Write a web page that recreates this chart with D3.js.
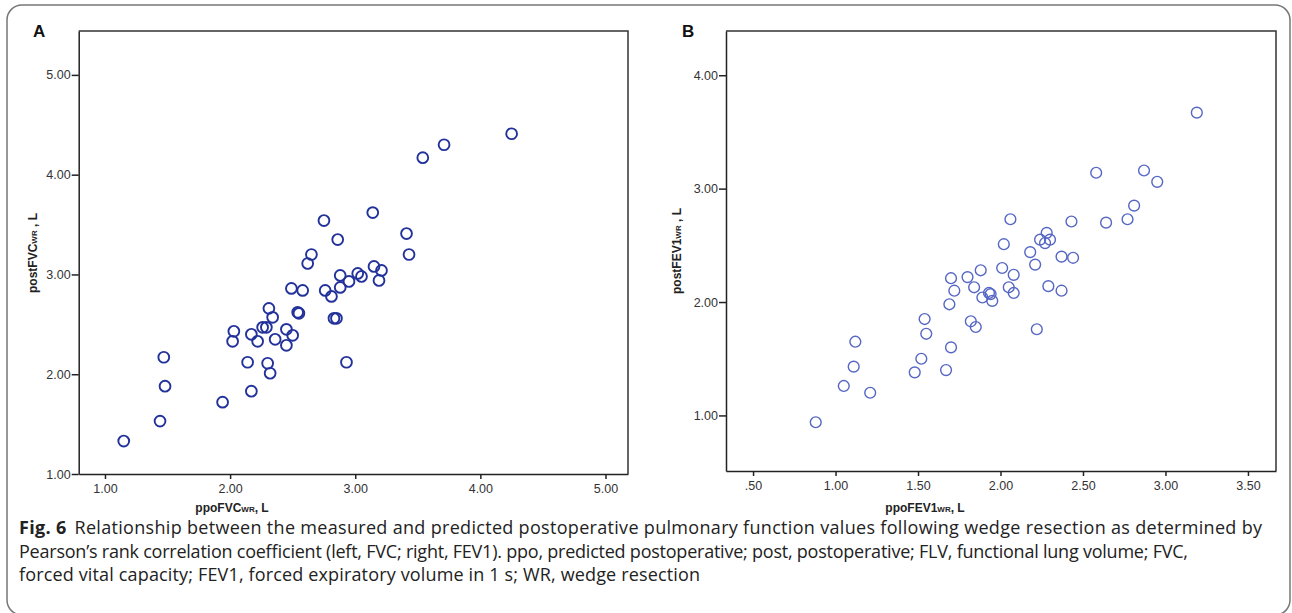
<!DOCTYPE html>
<html>
<head>
<meta charset="utf-8">
<script src="https://cdn.jsdelivr.net/npm/d3@7"></script>
<style>
  body { margin: 0; background: #fff; }
  svg { display: block; }
  .tick text { font-family: "Liberation Sans", Arial, sans-serif; font-size: 12.5px; fill: #333; }
  .axis path, .axis line { stroke: #222; stroke-width: 1.5; }
  .ttl { font-family: "Liberation Sans", Arial, sans-serif; font-weight: bold; font-size: 12px; fill: #222; }
  .cap { font-family: "Open Sans", sans-serif; font-size: 18px; fill: #222; }
</style>
</head>
<body>
<script>
// panel A: ppoFVC (x) vs postFVC (y)
var fvcPpo  = [2.75, 3.14, 3.41, 3.43, 2.86, 2.65, 2.62, 2.49, 2.58, 2.88, 2.95, 2.88, 2.76, 2.81,
               3.02, 3.05, 3.15, 3.21, 3.19, 2.55, 2.54, 2.83, 2.85, 2.31, 2.34, 2.26, 2.29, 2.45,
               2.50, 2.45, 2.36, 2.17, 2.22, 2.03, 2.02, 2.14, 2.30, 2.32, 2.93, 2.17, 1.94,
               3.54, 3.71, 4.25, 1.47, 1.48, 1.44, 1.15];
var fvcPost = [3.54, 3.62, 3.41, 3.20, 3.35, 3.20, 3.11, 2.86, 2.84, 2.99, 2.93, 2.87, 2.84, 2.78,
               3.01, 2.98, 3.08, 3.04, 2.94, 2.61, 2.62, 2.56, 2.56, 2.66, 2.57, 2.47, 2.47, 2.45,
               2.39, 2.29, 2.35, 2.40, 2.33, 2.43, 2.33, 2.12, 2.11, 2.01, 2.12, 1.83, 1.72,
               4.17, 4.30, 4.41, 2.17, 1.88, 1.53, 1.33];

// panel B: ppoFEV1 (x) vs postFEV1 (y)
var fevPpo  = [2.06, 2.43, 2.02, 2.28, 2.24, 2.30, 2.27, 2.18, 2.21, 2.37, 2.44, 2.01, 2.08, 2.05,
               2.08, 2.29, 2.37, 2.22, 1.88, 1.80, 1.70, 1.72, 1.84, 1.93, 1.94, 1.89, 1.95, 1.69,
               1.82, 1.85, 1.54, 1.55, 1.70, 1.52, 1.48, 1.67, 1.12, 1.11, 1.05, 1.21, 0.88,
               3.19, 2.58, 2.87, 2.95, 2.81, 2.77, 2.64];
var fevPost = [2.73, 2.71, 2.51, 2.61, 2.55, 2.55, 2.52, 2.44, 2.33, 2.40, 2.39, 2.30, 2.24, 2.13,
               2.08, 2.14, 2.10, 1.76, 2.28, 2.22, 2.21, 2.10, 2.13, 2.08, 2.07, 2.04, 2.01, 1.98,
               1.83, 1.78, 1.85, 1.72, 1.60, 1.50, 1.38, 1.40, 1.65, 1.43, 1.26, 1.20, 0.94,
               3.67, 3.14, 3.16, 3.06, 2.85, 2.73, 2.70];

var fvcXTicks = [1, 2, 3, 4, 5];
var fvcYTicks = [1, 2, 3, 4, 5];
var fevXTicks = [0.5, 1, 1.5, 2, 2.5, 3, 3.5];
var fevYTicks = [1, 2, 3, 4];

var captionLines = [
  "Relationship between the measured and predicted postoperative pulmonary function values following wedge resection as determined by",
  "Pearson\u2019s rank correlation coefficient (left, FVC; right, FEV1). ppo, predicted postoperative; post, postoperative; FLV, functional lung volume; FVC,",
  "forced vital capacity; FEV1, forced expiratory volume in 1 s; WR, wedge resection"
];
// measured line widths in the figure
var captionWidths = [1243, 1169, 681];

var W = 1292, H = 613;
var svg = d3.select("body").append("svg").attr("width", W).attr("height", H);

// outer rounded frame
svg.append("rect")
  .attr("x", 7).attr("y", 5).attr("width", 1283).attr("height", 610)
  .attr("rx", 15).attr("fill", "none").attr("stroke", "#777").attr("stroke-width", 1.5);

var fmtA = d3.format(".2f");
var fmtB = function(v) { return d3.format(".2f")(v).replace(/^0/, ""); };

function panel(cfg) {
  var x = d3.scaleLinear().domain(cfg.xDom).range([cfg.left, cfg.right]);
  var y = d3.scaleLinear().domain(cfg.yDom).range([cfg.bottom, cfg.top]);

  var g = svg.append("g");

  // top and right frame lines
  g.append("path")
    .attr("d", "M" + cfg.left + "," + cfg.top + "H" + cfg.right + "V" + cfg.bottom)
    .attr("fill", "none").attr("stroke", "#333").attr("stroke-width", 1.5);

  g.append("g").attr("class", "axis")
    .attr("transform", "translate(0," + cfg.bottom + ")")
    .call(d3.axisBottom(x).tickValues(cfg.xTicks).tickFormat(cfg.fmt).tickSize(5).tickSizeOuter(0).tickPadding(5));

  g.append("g").attr("class", "axis")
    .attr("transform", "translate(" + cfg.left + ",0)")
    .call(d3.axisLeft(y).tickValues(cfg.yTicks).tickFormat(fmtA).tickSize(7).tickSizeOuter(0).tickPadding(1));

  g.selectAll("circle.pt")
    .data(cfg.xs.map(function(v, i) { return [v, cfg.ys[i]]; }))
    .enter().append("circle")
    .attr("class", "pt")
    .attr("cx", function(d) { return x(d[0]); })
    .attr("cy", function(d) { return y(d[1]); })
    .attr("r", 5.4)
    .attr("fill", "none")
    .attr("stroke", cfg.color)
    .attr("stroke-width", cfg.sw);

  // panel letter
  g.append("text").attr("x", cfg.letterX).attr("y", 37)
    .style("font-family", "Liberation Sans, Arial, sans-serif")
    .style("font-weight", "bold").style("font-size", "17px").style("fill", "#111")
    .text(cfg.letter);

  // x title
  var xt = g.append("text").attr("class", "ttl")
    .attr("x", cfg.xTitleX).attr("y", 512).attr("text-anchor", "middle");
  xt.append("tspan").text(cfg.xName);
  xt.append("tspan").style("font-size", "8px").text("WR");
  xt.append("tspan").text(", L");

  // y title
  var yt = g.append("text").attr("class", "ttl")
    .attr("transform", "translate(" + cfg.yTitleX + "," + cfg.yTitleY + ") rotate(-90)")
    .attr("text-anchor", "middle");
  yt.append("tspan").text(cfg.yName);
  yt.append("tspan").style("font-size", "8px").text("WR");
  yt.append("tspan").text(" , L");
}

panel({
  xs: fvcPpo, ys: fvcPost,
  xDom: [0.79, 5.18], yDom: [1.0, 5.44],
  left: 78.7, right: 628, top: 31, bottom: 474,
  xTicks: fvcXTicks, yTicks: fvcYTicks, fmt: fmtA,
  color: "#22329a", sw: 1.9,
  letter: "A", letterX: 33,
  xName: "ppoFVC", xTitleX: 232,
  yName: "postFVC", yTitleX: 37, yTitleY: 253
});

panel({
  xs: fevPpo, ys: fevPost,
  xDom: [0.336, 3.67], yDom: [0.51, 4.39],
  left: 726, right: 1276, top: 31, bottom: 471,
  xTicks: fevXTicks, yTicks: fevYTicks, fmt: fmtB,
  color: "#5566c4", sw: 1.4,
  letter: "B", letterX: 682,
  xName: "ppoFEV1", xTitleX: 925,
  yName: "postFEV1", yTitleX: 681, yTitleY: 251
});

// caption
var cap = svg.append("g");
captionLines.forEach(function(line, i) {
  var t = cap.append("text").attr("class", "cap").attr("x", 19).attr("y", 534 + i * 23.5)
    .attr("textLength", captionWidths[i]).attr("lengthAdjust", "spacing");
  if (i === 0) {
    t.append("tspan").style("font-weight", "bold").text("Fig. 6");
    t.append("tspan").attr("dx", 8).text(line);
  } else {
    t.text(line);
  }
});
</script>
</body>
</html>
